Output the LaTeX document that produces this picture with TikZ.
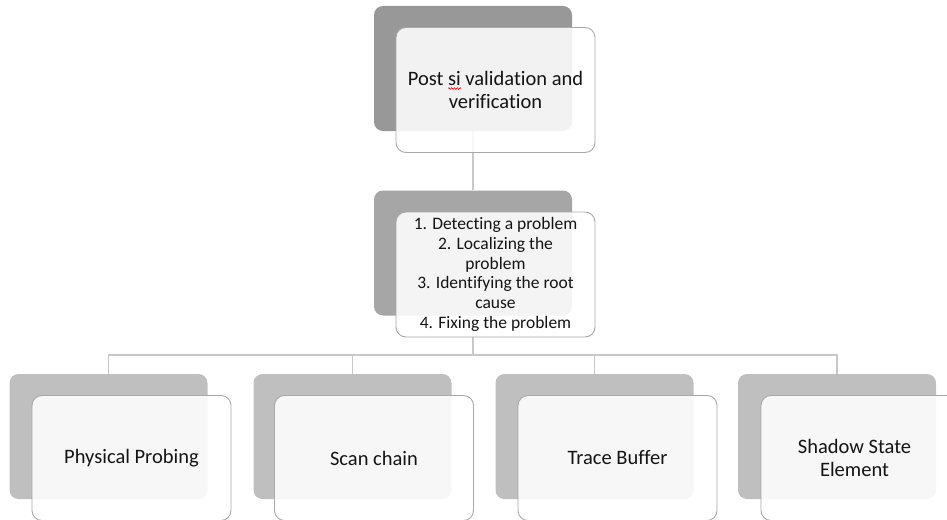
\documentclass[tikz,border=0pt]{standalone}
\usepackage{fontspec}
\setmainfont{Carlito}[Ligatures={NoCommon,NoRequired,NoContextual}]
\usetikzlibrary{decorations.pathmorphing}
\definecolor{shadeA}{HTML}{989898}
\definecolor{shadeB}{HTML}{A6A6A6}
\definecolor{shadeC}{HTML}{BFBFBF}
\definecolor{edgeC}{HTML}{A8A8A8}
\definecolor{connC}{HTML}{C8C8C8}
\definecolor{inkC}{HTML}{141414}
\begin{document}
\begin{tikzpicture}[x=1pt,y=-1pt,
  backcard/.style={rectangle, rounded corners=9pt, minimum width=198pt,
    minimum height=125pt, inner sep=0pt},
  frontcard/.style={rectangle, rounded corners=10pt, draw=edgeC, line width=0.9pt,
    fill=white, fill opacity=0.88, text opacity=1, text=inkC,
    minimum width=199pt, minimum height=125pt, align=center, inner sep=2pt,
    font=\fontsize{20.5}{23}\selectfont},
  conn/.style={draw=connC, line width=1.1pt}]
\useasboundingbox (0,0) rectangle (947,519);
\clip (0,0) rectangle (947,519);

% shaded back cards
\node[backcard, fill=shadeA] (g1) at (473,68.5) {};
\node[backcard, fill=shadeB] (g2) at (473,253) {};
\node[backcard, fill=shadeC] (b1) at (108.5,436.5) {};
\node[backcard, fill=shadeC] (b2) at (352.5,436.5) {};
\node[backcard, fill=shadeC] (b3) at (594.5,436.5) {};
\node[backcard, fill=shadeC] (b4) at (837,436.5) {};

% tree connectors
\coordinate (bus) at (473,355);
\draw[conn] (g1.south) -- (g2.north);
\draw[conn] (g2.south) |- (bus -| b1.north) -- (b1.north);
\draw[conn] (g2.south) |- (bus -| b2.north) -- (b2.north);
\draw[conn] (g2.south) |- (bus -| b3.north) -- (b3.north);
\draw[conn] (g2.south) |- (bus -| b4.north) -- (b4.north);

% front cards with labels
\node[frontcard] (t1) at (495.5,90) {Post si validation and\\verification};
\node[frontcard, font=\fontsize{17.5}{19.8}\selectfont] (t2) at (495.5,274.5)
  {1. Detecting a problem\\2. Localizing the\\problem\\3. Identifying the root\\cause\\4. Fixing the problem};
\node[frontcard] (f1) at (131.5,458) {Physical Probing};
\node[frontcard] (f2) at (374,458) {Scan chain};
\node[frontcard] (f3) at (617.5,458) {Trace Buffer};
\node[frontcard] (f4) at (860.5,458) {Shadow State\kern12pt\\Element\kern12pt};

% spell-check squiggle under "si"
\draw[red, line width=0.6pt, decorate,
  decoration={snake, amplitude=0.8pt, segment length=2.8pt}]
  (448,88.5) -- (461,88.5);
\end{tikzpicture}
\end{document}
